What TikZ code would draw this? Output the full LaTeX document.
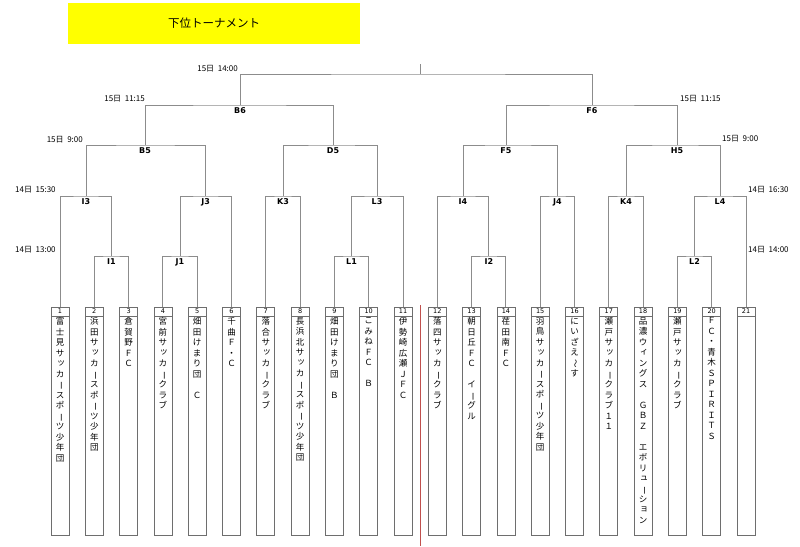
\documentclass[tikz,border=0pt]{standalone}
\usepackage{fontspec}
\usepackage{graphicx}
\setmainfont{DejaVu Sans}
\newfontfamily\jp{Noto Sans CJK JP}
\usetikzlibrary{positioning}
\definecolor{titleyellow}{HTML}{FFFF00}
\definecolor{bracketgray}{HTML}{8C8C8C}
\definecolor{boxgray}{HTML}{6E6E6E}
\definecolor{dividerred}{HTML}{C0504D}
\makeatletter
% one character of a vertical name: bars and waves turned, small kana moved up right
\def\vn@bar{ー}\def\vn@wave{〜}
\newcommand\vglyph{%
  \ifx\vchar\vn@bar\rotatebox[origin=c]{-90}{ー}%
  \else\ifx\vchar\vn@wave\rotatebox[origin=c]{-90}{〜}%
  \else\expandafter\in@\expandafter{\vchar}{ッィュョ}%
    \ifin@\kern2pt\raisebox{1.5pt}{\vchar}\else\vchar\fi
  \fi\fi}
\newcommand\vname[1]{\vtop{\baselineskip=10.5pt\lineskiplimit=-20pt
  \@tfor\vchar:=#1\do{\hbox to 10pt{\hss\vglyph\hss}}}}
\makeatother

\begin{document}
\begin{tikzpicture}[
    x=1pt, y=-1pt,
    title/.style={rectangle, fill=titleyellow, minimum width=292pt,
                 minimum height=41pt, font=\jp\fontsize{11.5}{13}\selectfont},
    teambox/.style={rectangle, draw=boxgray, line width=0.8pt, minimum width=18pt,
                   minimum height=228pt, inner sep=0pt},
    numcell/.style={rectangle, draw=boxgray, line width=0.8pt, minimum width=18pt,
                   minimum height=9pt, inner sep=0pt, anchor=north,
                   font=\fontsize{6.5}{7}\selectfont},
    namecol/.style={inner sep=0pt, font=\jp\fontsize{8.5}{10}\selectfont},
    match/.style={anchor=north, inner sep=2pt, font=\bfseries\fontsize{8}{9}\selectfont},
    timel/.style={inner sep=0pt, font=\jp\fontsize{8}{9}\selectfont},
    bracket/.style={draw=bracketgray, line width=1pt},
    divider/.style={draw=dividerred, line width=0.9pt}
]
\useasboundingbox (0,0) rectangle (800,546);

% Title
\node[title] at (214,23.5) (ttl) {下位トーナメント};

% Team boxes
\foreach \n in {1,...,21} {
    \node[teambox] at ({60+34.3*(\n-1)},421) (t\n) {};
    \node[numcell] at (t\n.north) (n\n) {\n};
}

% Team names
\foreach \n/\name in {1/富士見サッカースポーツ少年団, 2/浜田サッカースポーツ少年団,
        3/倉賀野ＦＣ, 4/宮前サッカークラブ, 5/畑田けまり団　Ｃ, 6/千曲Ｆ・Ｃ,
        7/落合サッカークラブ, 8/長浜北サッカースポーツ少年団, 9/畑田けまり団　Ｂ,
        10/こみねＦＣ　Ｂ, 11/伊勢崎広瀬ＪＦＣ, 12/落四サッカークラブ,
        13/朝日丘ＦＣ　イーグル, 14/荏田南ＦＣ, 15/羽鳥サッカースポーツ少年団,
        16/にいざえ〜す, 17/瀬戸サッカークラブ１１,
        18/品濃ウィングス　ＧＢＺ　エボリューション, 19/瀬戸サッカークラブ,
        20/ＦＣ・青木ＳＰＩＲＩＴＳ}
    \node[namecol, below=1pt of n\n] (nm\n) {\expandafter\vname\expandafter{\name}};

% Divider
\coordinate (divtop) at (420,305);
\coordinate (divbot) at (420,546);
\draw[divider] (divtop) -- (divbot);

% Matches
\node[match] at (111.5,256) (I1) {I1};
\node[match] at (180,256) (J1) {J1};
\node[match] at (351.5,256) (L1) {L1};
\node[match] at (488.8,256) (I2) {I2};
\node[match] at (694.5,256) (L2) {L2};

\node[match] at (86,196) (I3) {I3};
\node[match] at (205.7,196) (J3) {J3};
\node[match] at (283,196) (K3) {K3};
\node[match] at (377,196) (L3) {L3};
\node[match] at (463,196) (I4) {I4};
\node[match] at (557.4,196) (J4) {J4};
\node[match] at (626,196) (K4) {K4};
\node[match] at (720,196) (L4) {L4};

\node[match] at (145,145) (B5) {B5};
\node[match] at (333,145) (D5) {D5};
\node[match] at (506,145) (F5) {F5};
\node[match] at (677,145) (H5) {H5};

\node[match] at (240,105) (B6) {B6};
\node[match] at (592,105) (F6) {F6};

\coordinate (final) at (420,74);
\coordinate (finaltop) at (420,64);

% Brackets
\draw[bracket] (t2.north) |- (I1.north) -| (t3.north);
\draw[bracket] (t4.north) |- (J1.north) -| (t5.north);
\draw[bracket] (t9.north) |- (L1.north) -| (t10.north);
\draw[bracket] (t13.north) |- (I2.north) -| (t14.north);
\draw[bracket] (t19.north) |- (L2.north) -| (t20.north);

\draw[bracket] (t1.north) |- (I3.north) -| (I1.north);
\draw[bracket] (J1.north) |- (J3.north) -| (t6.north);
\draw[bracket] (t7.north) |- (K3.north) -| (t8.north);
\draw[bracket] (L1.north) |- (L3.north) -| (t11.north);
\draw[bracket] (t12.north) |- (I4.north) -| (I2.north);
\draw[bracket] (t15.north) |- (J4.north) -| (t16.north);
\draw[bracket] (t17.north) |- (K4.north) -| (t18.north);
\draw[bracket] (L2.north) |- (L4.north) -| (t21.north);

\draw[bracket] (I3.north) |- (B5.north) -| (J3.north);
\draw[bracket] (K3.north) |- (D5.north) -| (L3.north);
\draw[bracket] (I4.north) |- (F5.north) -| (J4.north);
\draw[bracket] (K4.north) |- (H5.north) -| (L4.north);

\draw[bracket] (B5.north) |- (B6.north) -| (D5.north);
\draw[bracket] (F5.north) |- (F6.north) -| (H5.north);

\draw[bracket] (B6.north) |- (final) -| (F6.north);
\draw[bracket] (final) -- (finaltop);

% Times
\node[timel, anchor=east] at (238,69) (tm1) {15日\ \ 14:00};
\node[timel, anchor=east] at (145,99) (tm2) {15日\ \ 11:15};
\node[timel, anchor=east] at (83,140) (tm3) {15日\ \ 9:00};
\node[timel, anchor=west] at (15,190) (tm4) {14日\ \ 15:30};
\node[timel, anchor=west] at (15,250) (tm5) {14日\ \ 13:00};
\node[timel, anchor=west] at (680,99) (tm6) {15日\ \ 11:15};
\node[timel, anchor=west] at (722,139) (tm7) {15日\ \ 9:00};
\node[timel, anchor=west] at (748,190) (tm8) {14日\ \ 16:30};
\node[timel, anchor=west] at (748,250) (tm9) {14日\ \ 14:00};

\end{tikzpicture}
\end{document}
